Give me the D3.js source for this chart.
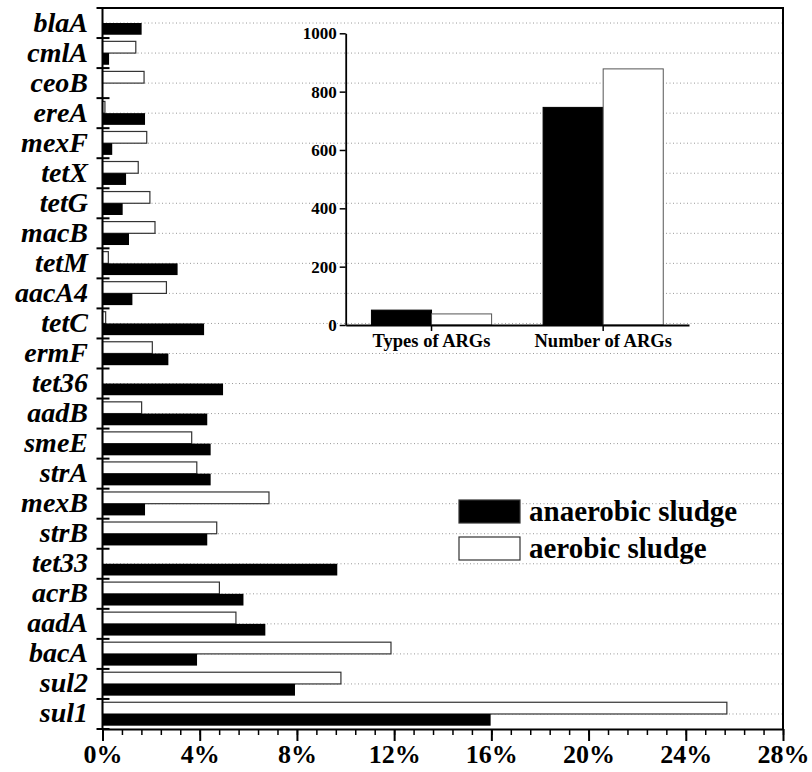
<!DOCTYPE html>
<html>
<head>
<meta charset="utf-8">
<script src="https://cdn.jsdelivr.net/npm/d3@7"></script>
<style>
  body { margin: 0; background: #fff; }
  svg { display: block; }
</style>
</head>
<body>
<div id="chart"></div>
<script>
// ARG relative abundance (%) per gene, top to bottom
const genes = ["blaA", "cmlA", "ceoB", "ereA", "mexF", "tetX", "tetG", "macB", "tetM", "aacA4", "tetC", "ermF",
  "tet36", "aadB", "smeE", "strA", "mexB", "strB", "tet33", "acrB", "aadA", "bacA", "sul2", "sul1"];
const anaerobic = [1.61, 0.27, 0, 1.75, 0.40, 0.97, 0.83, 1.09, 3.09, 1.23, 4.18, 2.71,
  4.96, 4.31, 4.45, 4.45, 1.75, 4.31, 9.66, 5.80, 6.70, 3.89, 7.92, 15.97];
const aerobic = [0, 1.37, 1.71, 0.10, 1.82, 1.47, 1.95, 2.16, 0.24, 2.63, 0.13, 2.05,
  0, 1.61, 3.67, 3.88, 6.85, 4.70, 0, 4.81, 5.49, 11.87, 9.81, 25.69];
const xTicks = [0, 4, 8, 12, 16, 20, 24, 28];

// inset: totals
const insetCats = ["Types of ARGs", "Number of ARGs"];
const insetAnaerobic = [51, 746];
const insetAerobic = [38, 878];
const insetTicks = [0, 200, 400, 600, 800, 1000];

const series = ["aerobic", "anaerobic"];
const legendNames = ["anaerobic sludge", "aerobic sludge"];

const FONT = "'Times New Roman', 'Liberation Serif', Times, serif";
const W = 812, H = 772;
const pLeft = 102.5, pRight = 783, pTop = 8, pBottom = 729;

const svg = d3.select("#chart").append("svg")
  .attr("width", W)
  .attr("height", H);

const x = d3.scaleLinear().domain([0, 28]).range([pLeft, pRight]);
const y = d3.scaleBand().domain(genes).range([pTop, pBottom]).paddingInner(0.22).paddingOuter(0.11);
const ySub = d3.scaleBand().domain(series).range([0, y.bandwidth()]);

const rows = genes.map((g, i) => ({ gene: g, aerobic: aerobic[i], anaerobic: anaerobic[i] }));

// dotted grid lines at each row centre
svg.append("g")
  .selectAll("line")
  .data(genes)
  .join("line")
  .attr("x1", pLeft)
  .attr("x2", pRight)
  .attr("y1", d => y(d) + y.bandwidth() / 2)
  .attr("y2", d => y(d) + y.bandwidth() / 2)
  .attr("stroke", "#999")
  .attr("stroke-width", 1)
  .attr("stroke-dasharray", "1,2.5");

// bars
const rowG = svg.append("g")
  .selectAll("g")
  .data(rows)
  .join("g")
  .attr("transform", d => `translate(0,${y(d.gene)})`);

rowG.selectAll("rect")
  .data(d => series.map(s => ({ key: s, value: d[s] })).filter(e => e.value > 0))
  .join("rect")
  .attr("x", x(0))
  .attr("y", d => ySub(d.key))
  .attr("width", d => x(d.value) - x(0))
  .attr("height", ySub.bandwidth())
  .attr("fill", d => d.key == "anaerobic" ? "#000" : "#fff")
  .attr("stroke", d => d.key == "anaerobic" ? "none" : "#333")
  .attr("stroke-width", 1.2);

// frame (top + right)
svg.append("path")
  .attr("d", `M${pLeft},${pTop}H${pRight}V${pBottom}`)
  .attr("fill", "none")
  .attr("stroke", "#000")
  .attr("stroke-width", 2);

// x axis
const xAxis = svg.append("g")
  .attr("transform", `translate(0,${pBottom})`);

xAxis.append("g")
  .call(d3.axisBottom(x).tickValues(d3.range(0, 28.01, 0.8)).tickSize(6).tickFormat(""))
  .call(g => g.select(".domain").remove())
  .selectAll("line").attr("stroke-width", 1.5);

xAxis.append("g")
  .call(d3.axisBottom(x).tickValues(xTicks).tickSize(12).tickSizeOuter(0).tickFormat(d => d + "%"))
  .call(g => g.select(".domain").attr("stroke-width", 2))
  .call(g => g.selectAll("line").attr("stroke-width", 2))
  .call(g => g.selectAll("text")
    .attr("dy", 0)
    .attr("y", 34)
    .attr("font-family", FONT)
    .attr("font-weight", "bold")
    .attr("font-size", 26)
    .attr("fill", "#000"));

// y axis: ticks on row boundaries, crossing the axis
const yAxis = svg.append("g");
yAxis.append("line")
  .attr("x1", pLeft).attr("x2", pLeft)
  .attr("y1", pTop).attr("y2", pBottom)
  .attr("stroke", "#000")
  .attr("stroke-width", 2);

const boundaries = genes.map(g => y(g) - y.step() * y.paddingInner() / 2).concat([pBottom]);
yAxis.selectAll(".tick")
  .data(boundaries)
  .join("line")
  .attr("x1", pLeft - 6).attr("x2", pLeft + 7)
  .attr("y1", d => d).attr("y2", d => d)
  .attr("stroke", "#000")
  .attr("stroke-width", 2);

yAxis.selectAll(".lab")
  .data(genes)
  .join("text")
  .attr("x", 88)
  .attr("y", d => y(d) + y.bandwidth() / 2 + 8.5)
  .attr("text-anchor", "end")
  .attr("font-family", FONT)
  .attr("font-weight", "bold")
  .attr("font-style", "italic")
  .attr("font-size", 28)
  .text(d => d);

// legend
const legend = svg.append("g").attr("transform", "translate(459,500)");
legendNames.forEach((name, i) => {
  legend.append("rect")
    .attr("x", 0)
    .attr("y", i * 37)
    .attr("width", 61)
    .attr("height", 23)
    .attr("fill", i == 0 ? "#000" : "#fff")
    .attr("stroke", "#333")
    .attr("stroke-width", 1.2);
  legend.append("text")
    .attr("x", 70)
    .attr("y", i * 37 + 21)
    .attr("font-family", FONT)
    .attr("font-weight", "bold")
    .attr("font-size", 29)
    .text(name);
});

// inset chart
const ix = d3.scaleBand().domain(insetCats).range([345.7, 689]).paddingInner(0.3).paddingOuter(0.15);
const ixSub = d3.scaleBand().domain(["anaerobic", "aerobic"]).range([0, ix.bandwidth()]);
const iy = d3.scaleLinear().domain([0, 1000]).range([325, 33.3]);

const inset = svg.append("g");
const insetRows = insetCats.map((c, i) => ({ cat: c, anaerobic: insetAnaerobic[i], aerobic: insetAerobic[i] }));

inset.selectAll("g.bar")
  .data(insetRows)
  .join("g")
  .attr("transform", d => `translate(${ix(d.cat)},0)`)
  .selectAll("rect")
  .data(d => ["anaerobic", "aerobic"].map(s => ({ key: s, value: d[s] })))
  .join("rect")
  .attr("x", d => ixSub(d.key))
  .attr("y", d => iy(d.value))
  .attr("width", ixSub.bandwidth())
  .attr("height", d => iy(0) - iy(d.value))
  .attr("fill", d => d.key == "anaerobic" ? "#000" : "#fff")
  .attr("stroke", d => d.key == "anaerobic" ? "#000" : "#555")
  .attr("stroke-width", 1);

inset.append("g")
  .attr("transform", "translate(345.7,0)")
  .call(d3.axisLeft(iy).tickValues(insetTicks).tickSize(6).tickSizeOuter(0).tickFormat(d3.format("d")))
  .call(g => g.select(".domain").attr("stroke-width", 1.8))
  .call(g => g.selectAll("line").attr("stroke-width", 1.5))
  .call(g => g.selectAll("text")
    .attr("x", -9)
    .attr("font-family", FONT)
    .attr("font-weight", "bold")
    .attr("font-size", 17)
    .attr("fill", "#000"));

inset.append("g")
  .attr("transform", "translate(0,325)")
  .call(d3.axisBottom(ix).tickSize(6).tickSizeOuter(0))
  .call(g => g.select(".domain").attr("stroke-width", 1.8))
  .call(g => g.selectAll("line").attr("stroke-width", 1.5))
  .call(g => g.selectAll("text")
    .attr("dy", 0)
    .attr("y", 22)
    .attr("font-family", FONT)
    .attr("font-weight", "bold")
    .attr("font-size", 18.5)
    .attr("fill", "#000"));
</script>
</body>
</html>
